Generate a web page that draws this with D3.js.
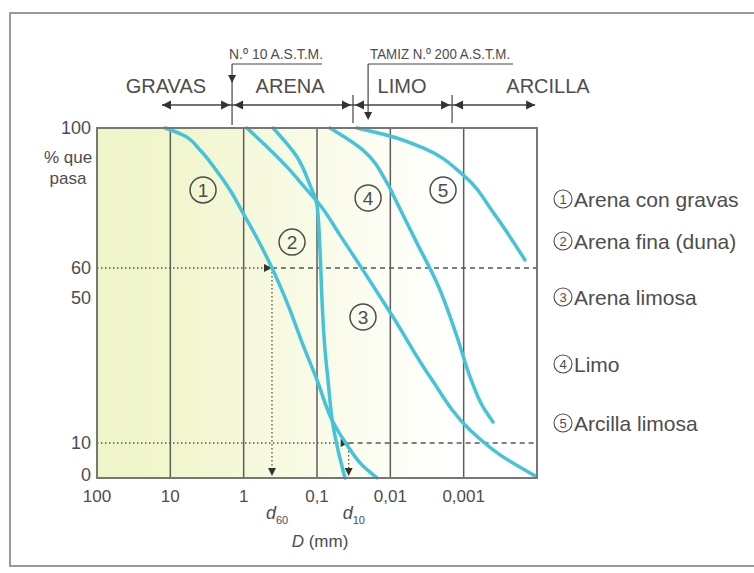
<!DOCTYPE html>
<html>
<head>
<meta charset="utf-8">
<script src="https://cdn.jsdelivr.net/npm/d3@7"></script>
<style>
  body { margin: 0; background: #fff; }
  svg { display: block; font-family: "Liberation Sans", Arial, sans-serif; }
</style>
</head>
<body>
<div id="chart"></div>
<script>
// grain size D (mm) vs % que pasa
const curve1 = [[11.8,100],[6.72,98],[3.94,93.7],[2.38,88],[1.535,82.3],[1.02,75.7],[0.637,68],[0.411,60],[0.248,49.4],[0.155,38],[0.1,28],[0.0605,16],[0.039,9.4],[0.0243,3.7],[0.0152,0]];
const curve2 = [[0.398,100],[0.187,91.7],[0.1245,83.7],[0.1,78],[0.091,65.1],[0.0855,50.9],[0.0778,36.6],[0.0708,28],[0.0605,15.1],[0.0517,8],[0.0415,0]];
const curve3 = [[0.9,100],[0.545,95.7],[0.257,88.9],[0.137,82.3],[0.091,78],[0.0486,69.4],[0.0236,59.4],[0.00918,46],[0.00288,28.9],[0.000819,13.7],[0.000319,6.6],[0.000106,0.6]];
const curve4 = [[0.0665,100],[0.0236,93.7],[0.0111,84.3],[0.0081,78.6],[0.00433,67.1],[0.00231,55.7],[0.00123,40.3],[0.000819,28.9],[0.000545,20.3],[0.000398,16]];
const curve5 = [[0.0285,100],[0.0101,97.7],[0.00358,94.3],[0.00102,86.6],[0.000373,75.1],[0.000146,62.3]];
const curves = [curve1, curve2, curve3, curve4, curve5];

const curveNames = ["Arena con gravas", "Arena fina (duna)", "Arena limosa", "Limo", "Arcilla limosa"];
const curveLabelAt = [[3.58,82.3],[0.219,67.4],[0.0236,46],[0.0201,80],[0.00191,82.3]];

const xTicks = [100, 10, 1, 0.1, 0.01, 0.001];
const xTickLabels = ["100", "10", "1", "0,1", "0,01", "0,001"];
const gridLines = [10, 1, 0.1, 0.01, 0.001];
const yTicks = [100, 60, 50, 10, 0];

const zoneNames = ["GRAVAS", "ARENA", "LIMO", "ARCILLA"];
const zoneLabelAt = [11.5, 0.233, 0.00693, 0.0000708];
const zoneLimits = [13, 1.44, 0.0323, 0.00144, 0.000106];
const sieve10 = 1.44, sieve200 = 0.0201;

const d60 = 0.411, d10 = 0.037;

const W = 754, H = 573;
const ink = "#4d4d4d";
const cyan = "#45c3d8";

const svg = d3.select("#chart").append("svg")
    .attr("width", W)
    .attr("height", H);

const x = d3.scaleLog().domain([100, 0.0001]).range([97, 537]);
const y = d3.scaleLinear().domain([0, 100]).range([478, 128]);

// outer frame
svg.append("rect")
    .attr("x", 10).attr("y", 13)
    .attr("width", 780).attr("height", 553)
    .attr("fill", "none")
    .attr("stroke", "#9a9a9a")
    .attr("stroke-width", 2);

// background gradient (gravas side is greener)
const grad = svg.append("defs").append("linearGradient")
    .attr("id", "bg")
    .attr("gradientUnits", "userSpaceOnUse")
    .attr("x1", x(100)).attr("x2", x(0.0001))
    .attr("y1", 0).attr("y2", 0);
[[0, "#eff5c8"], [0.17, "#f1f6cd"], [0.34, "#f5f8da"], [0.5, "#f9fbe8"], [0.67, "#fdfdf5"], [0.82, "#ffffff"]]
    .forEach(s => grad.append("stop").attr("offset", s[0]).attr("stop-color", s[1]));

svg.append("rect")
    .attr("x", x(100)).attr("y", y(100))
    .attr("width", x(0.0001) - x(100)).attr("height", y(0) - y(100))
    .attr("fill", "url(#bg)");

// vertical grid lines
svg.append("g").selectAll("line")
    .data(gridLines)
    .join("line")
    .attr("x1", d => x(d)).attr("x2", d => x(d))
    .attr("y1", y(100)).attr("y2", y(0))
    .attr("stroke", "#5e5e5e")
    .attr("stroke-width", 1.5);

function tri(g, px, py, dir, s) {
    s = s || 7;
    let p;
    if (dir === "right") p = [[px, py], [px - s, py - s / 2], [px - s, py + s / 2]];
    else if (dir === "left") p = [[px, py], [px + s, py - s / 2], [px + s, py + s / 2]];
    else p = [[px, py], [px - s / 2, py - s], [px + s / 2, py - s]];
    g.append("path").attr("d", "M" + p.join("L") + "Z").attr("fill", "#333");
}

// d60 and d10 guide lines
const guides = svg.append("g");
[[60, d60], [10, d10]].forEach(([p, d]) => {
    guides.append("line")
        .attr("x1", x(100)).attr("x2", x(d) - 2)
        .attr("y1", y(p)).attr("y2", y(p))
        .attr("stroke", "#555").attr("stroke-width", 1.3)
        .attr("stroke-dasharray", "1.5,2.5");
    guides.append("line")
        .attr("x1", x(d)).attr("x2", x(0.0001))
        .attr("y1", y(p)).attr("y2", y(p))
        .attr("stroke", "#555").attr("stroke-width", 1.3)
        .attr("stroke-dasharray", "5,4");
    guides.append("line")
        .attr("x1", x(d)).attr("x2", x(d))
        .attr("y1", y(p)).attr("y2", y(0) - 4)
        .attr("stroke", "#555").attr("stroke-width", 1.3)
        .attr("stroke-dasharray", "1.5,2.5");
    tri(guides, x(d), y(p), "right", 8);
    tri(guides, x(d), y(0) - 2, "down", 8);
});

// curves
const line = d3.line()
    .x(d => x(d[0]))
    .y(d => y(d[1]))
    .curve(d3.curveMonotoneY);

svg.append("g").selectAll("path")
    .data(curves)
    .join("path")
    .attr("d", line)
    .attr("fill", "none")
    .attr("stroke", cyan)
    .attr("stroke-width", 3.5)
    .attr("stroke-linecap", "round");

// plot border
svg.append("rect")
    .attr("x", x(100)).attr("y", y(100))
    .attr("width", x(0.0001) - x(100)).attr("height", y(0) - y(100))
    .attr("fill", "none")
    .attr("stroke", "#777")
    .attr("stroke-width", 2);

// numbered labels inside the plot
const marks = svg.append("g").selectAll("g")
    .data(curveLabelAt)
    .join("g")
    .attr("transform", d => `translate(${x(d[0])},${y(d[1])})`);
marks.append("circle")
    .attr("r", 13)
    .attr("fill", "none")
    .attr("stroke", ink)
    .attr("stroke-width", 1.5);
marks.append("text")
    .attr("text-anchor", "middle")
    .attr("dy", "0.36em")
    .attr("font-size", 19)
    .attr("fill", ink)
    .text((d, i) => i + 1);

// x tick labels
svg.append("g").selectAll("text")
    .data(xTicks)
    .join("text")
    .attr("x", d => x(d))
    .attr("y", 502)
    .attr("text-anchor", "middle")
    .attr("font-size", 17)
    .attr("fill", ink)
    .text((d, i) => xTickLabels[i]);

// y tick labels
svg.append("g").selectAll("text")
    .data(yTicks)
    .join("text")
    .attr("x", 91)
    .attr("y", d => d === 50 ? y(d) - 5 : d === 0 ? y(d) - 3 : y(d))
    .attr("dy", "0.35em")
    .attr("text-anchor", "end")
    .attr("font-size", 18)
    .attr("fill", ink)
    .text(d => d);

svg.append("text")
    .attr("x", 68).attr("y", 163)
    .attr("text-anchor", "middle")
    .attr("font-size", 17).attr("fill", ink)
    .text("% que");
svg.append("text")
    .attr("x", 68).attr("y", 184)
    .attr("text-anchor", "middle")
    .attr("font-size", 17).attr("fill", ink)
    .text("pasa");

// d60, d10 and axis title
[[d60, "60"], [d10, "10"]].forEach(([d, s]) => {
    const t = svg.append("text")
        .attr("x", x(d) - 6).attr("y", 519)
        .attr("font-size", 18).attr("fill", ink);
    t.append("tspan").attr("font-style", "italic").text("d");
    t.append("tspan").attr("font-size", 11).attr("dy", 5).text(s);
});
const tt = svg.append("text")
    .attr("x", 320).attr("y", 547)
    .attr("text-anchor", "middle")
    .attr("font-size", 17).attr("fill", ink);
tt.append("tspan").attr("font-style", "italic").text("D");
tt.append("tspan").text(" (mm)");

// legend
const leg = svg.append("g").selectAll("g")
    .data(curveNames)
    .join("g")
    .attr("transform", (d, i) => `translate(563,${[199, 241, 297, 364, 423][i]})`);
leg.append("circle")
    .attr("r", 9)
    .attr("fill", "none")
    .attr("stroke", ink)
    .attr("stroke-width", 1.1);
leg.append("text")
    .attr("text-anchor", "middle")
    .attr("dy", "0.36em")
    .attr("font-size", 13)
    .attr("fill", ink)
    .text((d, i) => i + 1);
leg.append("text")
    .attr("x", 11)
    .attr("dy", "0.36em")
    .attr("font-size", 21)
    .attr("fill", ink)
    .text(d => d);

// soil classes above the plot
const hdr = svg.append("g");
const ay = 105;
hdr.append("line")
    .attr("x1", x(zoneLimits[0])).attr("x2", x(zoneLimits[4]))
    .attr("y1", ay).attr("y2", ay)
    .attr("stroke", "#444").attr("stroke-width", 1.3);
for (let i = 0; i < 4; i++) {
    tri(hdr, x(zoneLimits[i]) + (i === 0 ? 0 : 2), ay, "left", 9);
    tri(hdr, x(zoneLimits[i + 1]) - (i === 3 ? 0 : 2), ay, "right", 9);
}
[zoneLimits[2], zoneLimits[3]].forEach(d => {
    hdr.append("line")
        .attr("x1", x(d)).attr("x2", x(d))
        .attr("y1", ay - 10).attr("y2", y(100) - 5)
        .attr("stroke", "#444").attr("stroke-width", 1.2);
});
hdr.selectAll("text.zone")
    .data(zoneNames)
    .join("text")
    .attr("class", "zone")
    .attr("x", (d, i) => x(zoneLabelAt[i]))
    .attr("y", 93)
    .attr("text-anchor", "middle")
    .attr("font-size", 20)
    .attr("fill", ink)
    .text(d => d);

// sieve markers
hdr.append("line")
    .attr("x1", x(sieve10)).attr("x2", x(sieve10))
    .attr("y1", 64).attr("y2", y(100) - 3)
    .attr("stroke", "#444").attr("stroke-width", 1.2);
hdr.append("line")
    .attr("x1", x(sieve10)).attr("x2", x(sieve10) + 90)
    .attr("y1", 64).attr("y2", 64)
    .attr("stroke", "#444").attr("stroke-width", 1);
tri(hdr, x(sieve10), 83, "down", 8);
hdr.append("text")
    .attr("x", x(sieve10) - 3).attr("y", 59)
    .attr("font-family", "'Liberation Sans Narrow', 'Liberation Sans', sans-serif")
    .attr("font-size", 15.5).attr("fill", ink)
    .attr("textLength", 94).attr("lengthAdjust", "spacingAndGlyphs")
    .text("N.º 10 A.S.T.M.");

hdr.append("line")
    .attr("x1", x(sieve200)).attr("x2", x(sieve200))
    .attr("y1", 64).attr("y2", 118)
    .attr("stroke", "#444").attr("stroke-width", 1.2);
hdr.append("line")
    .attr("x1", x(sieve200)).attr("x2", x(sieve200) + 145)
    .attr("y1", 64).attr("y2", 64)
    .attr("stroke", "#444").attr("stroke-width", 1);
tri(hdr, x(sieve200), 120, "down", 8);
hdr.append("text")
    .attr("x", x(sieve200) + 2).attr("y", 59)
    .attr("font-family", "'Liberation Sans Narrow', 'Liberation Sans', sans-serif")
    .attr("font-size", 15.5).attr("fill", ink)
    .attr("textLength", 140).attr("lengthAdjust", "spacingAndGlyphs")
    .text("TAMIZ N.º 200 A.S.T.M.");
</script>
</body>
</html>
